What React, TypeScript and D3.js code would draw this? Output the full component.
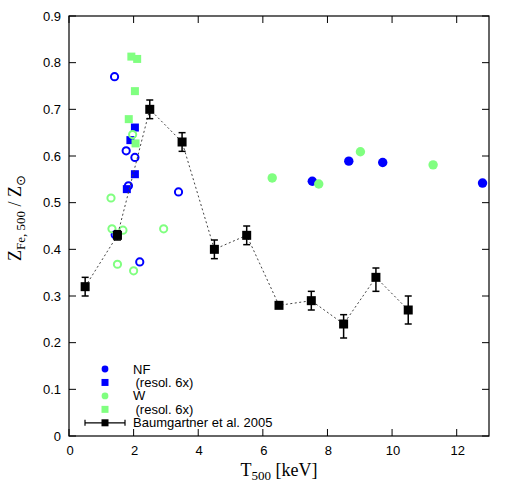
import React, { useRef, useEffect } from "react";
import * as d3 from "d3";

// NF: filled circles (high T) and open circles (groups)
const nfX = [7.53, 8.66, 9.71, 12.8];
const nfY = [0.546, 0.589, 0.586, 0.542];
const nfOpenX = [1.41, 1.77, 2.04, 1.84, 3.39, 1.43, 2.19];
const nfOpenY = [0.77, 0.611, 0.597, 0.536, 0.523, 0.431, 0.373];
const nfResX = [2.04, 1.9, 2.04, 1.79];
const nfResY = [0.661, 0.634, 0.561, 0.529];

// W
const wX = [6.29, 7.73, 9.02, 11.27];
const wY = [0.553, 0.54, 0.609, 0.581];
const wOpenX = [1.97, 1.3, 1.33, 1.67, 2.93, 1.5, 2.0];
const wOpenY = [0.646, 0.51, 0.444, 0.441, 0.444, 0.368, 0.354];
const wResX = [1.93, 2.11, 2.04, 1.85, 2.06];
const wResY = [0.813, 0.808, 0.739, 0.679, 0.627];

// Baumgartner et al. 2005
const bgX = [0.5, 1.5, 2.5, 3.5, 4.5, 5.5, 6.5, 7.5, 8.5, 9.5, 10.5];
const bgY = [0.32, 0.43, 0.7, 0.63, 0.4, 0.43, 0.28, 0.29, 0.24, 0.34, 0.27];
const bgLo = [0.3, 0.42, 0.68, 0.61, 0.38, 0.41, 0.275, 0.27, 0.21, 0.31, 0.24];
const bgHi = [0.34, 0.44, 0.72, 0.65, 0.42, 0.45, 0.285, 0.31, 0.26, 0.36, 0.3];

const xTicks = [0, 2, 4, 6, 8, 10, 12];
const yTicks = [0, 0.1, 0.2, 0.3, 0.4, 0.5, 0.6, 0.7, 0.8, 0.9];
const legendLabels = ["NF", " (resol. 6x)", "W", " (resol. 6x)", "Baumgartner et al. 2005"];

const BLUE = "#0000ff";
const GREEN = "#80ff80";

const App = () => {
  const svgRef = useRef<SVGSVGElement>(null);

  useEffect(() => {
    const svg = d3.select(svgRef.current);
    svg.selectAll("*").remove();

    const width = 526;
    const height = 491;
    const margin = { top: 16, right: 37, bottom: 55, left: 69 };

    const x = d3.scaleLinear().domain([0, 13]).range([margin.left, width - margin.right]);
    const y = d3.scaleLinear().domain([0, 0.9]).range([height - margin.bottom, margin.top]);

    const tickFont = "'Liberation Sans', Arial, sans-serif";
    const tl = 7;

    // frame
    svg
      .append("rect")
      .attr("x", x(0))
      .attr("y", y(0.9))
      .attr("width", x(13) - x(0))
      .attr("height", y(0) - y(0.9))
      .attr("fill", "none")
      .attr("stroke", "black")
      .attr("stroke-width", 1.2);

    // ticks (mirrored, inward)
    xTicks.forEach((t) => {
      svg.append("line").attr("x1", x(t)).attr("x2", x(t)).attr("y1", y(0)).attr("y2", y(0) - tl).attr("stroke", "black");
      svg.append("line").attr("x1", x(t)).attr("x2", x(t)).attr("y1", y(0.9)).attr("y2", y(0.9) + tl).attr("stroke", "black");
      svg
        .append("text")
        .attr("x", x(t) + 1)
        .attr("y", y(0) + 18.5)
        .attr("text-anchor", "middle")
        .attr("font-family", tickFont)
        .attr("font-size", 13)
        .text(d3.format("d")(t));
    });
    yTicks.forEach((t) => {
      svg.append("line").attr("x1", x(0)).attr("x2", x(0) + tl).attr("y1", y(t)).attr("y2", y(t)).attr("stroke", "black");
      svg.append("line").attr("x1", x(13)).attr("x2", x(13) - tl).attr("y1", y(t)).attr("y2", y(t)).attr("stroke", "black");
      svg
        .append("text")
        .attr("x", x(0) - 8)
        .attr("y", y(t) + 4.5)
        .attr("text-anchor", "end")
        .attr("font-family", tickFont)
        .attr("font-size", 13)
        .text(t === 0 ? "0" : d3.format(".1f")(t));
    });

    // axis labels
    const serif = "'Liberation Serif', 'Times New Roman', serif";
    const xl = svg
      .append("text")
      .attr("x", (x(0) + x(13)) / 2)
      .attr("y", 476)
      .attr("text-anchor", "middle")
      .attr("font-family", serif)
      .attr("font-size", 18);
    xl.append("tspan").text("T");
    xl.append("tspan").attr("font-size", 13).attr("dy", 4).text("500");
    xl.append("tspan").attr("dy", -4).text(" [keV]");

    const yl = svg
      .append("text")
      .attr("transform", `translate(21,${(y(0) + y(0.9)) / 2 - 8}) rotate(-90)`)
      .attr("text-anchor", "middle")
      .attr("font-family", serif)
      .attr("font-size", 18);
    yl.append("tspan").text("Z");
    yl.append("tspan").attr("font-size", 13).attr("dy", 4).text("Fe, 500");
    yl.append("tspan").attr("dy", -4).text(" / Z");
    yl.append("tspan").attr("font-size", 13).attr("dy", 4).attr("font-family", "'DejaVu Sans', sans-serif").text("⊙");

    const pts = (xs: number[], ys: number[]) => xs.map((v, i) => ({ x: v, y: ys[i] }));

    const openCircles = (data: { x: number; y: number }[], color: string) =>
      svg
        .append("g")
        .selectAll("circle")
        .data(data)
        .join("circle")
        .attr("cx", (d) => x(d.x))
        .attr("cy", (d) => y(d.y))
        .attr("r", 3.6)
        .attr("fill", "none")
        .attr("stroke", color)
        .attr("stroke-width", 2);

    const filledCircles = (data: { x: number; y: number }[], color: string) =>
      svg
        .append("g")
        .selectAll("circle")
        .data(data)
        .join("circle")
        .attr("cx", (d) => x(d.x))
        .attr("cy", (d) => y(d.y))
        .attr("r", 4.7)
        .attr("fill", color);

    const squares = (data: { x: number; y: number }[], color: string, s = 8) =>
      svg
        .append("g")
        .selectAll("rect")
        .data(data)
        .join("rect")
        .attr("x", (d) => x(d.x) - s / 2)
        .attr("y", (d) => y(d.y) - s / 2)
        .attr("width", s)
        .attr("height", s)
        .attr("fill", color);

    openCircles(pts(nfOpenX, nfOpenY), BLUE);
    filledCircles(pts(nfX, nfY), BLUE);
    squares(pts(nfResX, nfResY), BLUE);
    openCircles(pts(wOpenX, wOpenY), GREEN);
    filledCircles(pts(wX, wY), GREEN);
    squares(pts(wResX, wResY), GREEN);

    // Baumgartner
    const bg = bgX.map((v, i) => ({ x: v, y: bgY[i], lo: bgLo[i], hi: bgHi[i] }));
    svg
      .append("path")
      .datum(bg)
      .attr("fill", "none")
      .attr("stroke", "#444")
      .attr("stroke-width", 1)
      .attr("stroke-dasharray", "2 2.5")
      .attr(
        "d",
        d3
          .line<{ x: number; y: number }>()
          .x((d) => x(d.x))
          .y((d) => y(d.y))
      );
    const eb = svg.append("g").attr("stroke", "black").attr("stroke-width", 1.5);
    bg.forEach((d) => {
      eb.append("line").attr("x1", x(d.x)).attr("x2", x(d.x)).attr("y1", y(d.lo)).attr("y2", y(d.hi));
      eb.append("line").attr("x1", x(d.x) - 3.5).attr("x2", x(d.x) + 3.5).attr("y1", y(d.lo)).attr("y2", y(d.lo));
      eb.append("line").attr("x1", x(d.x) - 3.5).attr("x2", x(d.x) + 3.5).attr("y1", y(d.hi)).attr("y2", y(d.hi));
    });
    squares(bg, "black", 9);

    // legend
    const lgX = 105;
    const lgTextX = 133;
    const lgY0 = 373.5;
    const lgStep = 13.45;
    legendLabels.forEach((lab, i) => {
      const by = lgY0 + i * lgStep;
      const cy = by - 4.5;
      if (i === 0 || i === 2) {
        svg.append("circle").attr("cx", lgX).attr("cy", cy).attr("r", 3.4).attr("fill", i === 0 ? BLUE : GREEN);
      } else if (i === 1 || i === 3) {
        svg.append("rect").attr("x", lgX - 3.5).attr("y", cy - 3.5).attr("width", 7).attr("height", 7).attr("fill", i === 1 ? BLUE : GREEN);
      } else {
        svg.append("line").attr("x1", lgX - 20).attr("x2", lgX + 20).attr("y1", cy).attr("y2", cy).attr("stroke", "black").attr("stroke-width", 1.2);
        svg.append("line").attr("x1", lgX - 20).attr("x2", lgX - 20).attr("y1", cy - 3).attr("y2", cy + 3).attr("stroke", "black").attr("stroke-width", 1.2);
        svg.append("line").attr("x1", lgX + 20).attr("x2", lgX + 20).attr("y1", cy - 3).attr("y2", cy + 3).attr("stroke", "black").attr("stroke-width", 1.2);
        svg.append("rect").attr("x", lgX - 3.5).attr("y", cy - 3.5).attr("width", 7).attr("height", 7).attr("fill", "black");
      }
      svg
        .append("text")
        .attr("x", lab.startsWith(" ") ? lgTextX + 2.5 : lgTextX)
        .attr("y", by)
        .attr("font-family", tickFont)
        .attr("font-size", 13)
        .text(lab.trim());
    });
  }, []);

  return (
    <svg
      ref={svgRef}
      width={526}
      height={491}
      style={{ position: "absolute", left: 0, top: 0, background: "white" }}
    />
  );
};

export default App;
